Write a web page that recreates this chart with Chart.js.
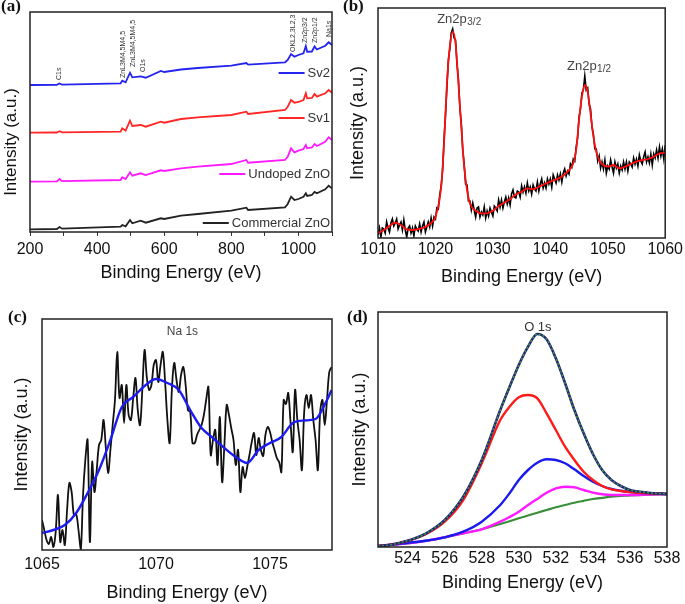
<!DOCTYPE html>
<html lang="en">
<head>
<meta charset="utf-8">
<title>XPS spectra</title>
<script src="https://cdn.jsdelivr.net/npm/chart.js@4.4.1/dist/chart.umd.min.js"></script>
<style>
  body { margin: 0; background: #fff; }
  #fig { position: relative; width: 685px; height: 604px; }
  .panel { position: absolute; }
  .tag { position: absolute; font: bold 17px "Liberation Serif", "Times New Roman", serif; color: #111; }
</style>
</head>
<body>
<div id="fig">
  <div class="panel" style="left:0;top:0;width:345px;height:300px"><canvas id="ca"></canvas></div>
  <div class="panel" style="left:340px;top:0;width:345px;height:300px"><canvas id="cb"></canvas></div>
  <div class="panel" style="left:0;top:300px;width:345px;height:304px"><canvas id="cc"></canvas></div>
  <div class="panel" style="left:340px;top:300px;width:345px;height:304px"><canvas id="cd"></canvas></div>
  <div class="tag" style="left:1px;top:-4px">(a)</div>
  <div class="tag" style="left:343px;top:-4px">(b)</div>
  <div class="tag" style="left:8px;top:307px">(c)</div>
  <div class="tag" style="left:347px;top:307px">(d)</div>
</div>

<script>
// ---- (a) survey spectra ----
const surveyE = [200, 280, 288, 296, 470, 475, 485, 498, 505, 530, 545, 590, 600, 650, 700, 800,
  845, 850, 960, 968, 978, 988, 1000, 1015, 1022, 1026, 1040, 1048, 1055, 1080, 1090, 1100];
const sv2 = [147, 147.2, 148.5, 147.3, 148.7, 151.3, 149.7, 159.3, 154.7, 155.7, 154.3, 161, 160, 162.5, 164, 166.3,
  169, 167.3, 169.7, 172, 178, 175.3, 177, 178.7, 186, 180.3, 180.5, 185.5, 182.5, 186.3, 189.7, 187];
const sv1 = [99.3, 99.5, 100.8, 99.6, 100.3, 103.7, 101.3, 111.3, 106, 107, 105.3, 110.3, 109.3, 113, 114.7, 117,
  120.3, 118, 122, 125.3, 132, 129.3, 130, 132, 138.7, 133.7, 134, 138, 135.3, 138.7, 142, 139.3];
const undoped = [50.3, 50.6, 53, 50.8, 52, 54.7, 53, 59.7, 56.3, 58.7, 57, 61.7, 61, 63.7, 65.3, 68,
  72, 69.3, 72, 75.3, 83.7, 79.7, 81.3, 83, 87, 83.7, 84.5, 88, 86, 90.3, 94.7, 92];
const commercial = [2.7, 3, 5, 3.3, 5.3, 7, 5.7, 12, 8.7, 11.3, 9.3, 13.7, 13, 16.3, 18, 21.3,
  24.3, 22, 24.7, 28, 35.3, 32, 33, 35.3, 38.7, 36, 37, 40, 38.7, 42.7, 46.3, 43.7];
const surveyTicks = [200, 300, 400, 500, 600, 700, 800, 900, 1000, 1100];
const surveyLabels = [200, 400, 600, 800, 1000];

// ---- (b) Zn 2p ----
const znE = [1010, 1011, 1012, 1013, 1014, 1015, 1016, 1017, 1018, 1019, 1020, 1021,
  1021.5, 1022, 1022.5, 1023, 1023.5, 1024, 1024.5, 1025, 1025.5, 1026,
  1027, 1028, 1029, 1030, 1031, 1032, 1033, 1034, 1035, 1036, 1037, 1038, 1039, 1040, 1041, 1042, 1043, 1044,
  1044.5, 1045, 1045.5, 1046, 1046.5, 1047, 1047.5, 1048, 1048.5, 1049,
  1050, 1051, 1052, 1053, 1054, 1055, 1056, 1057, 1058, 1059, 1060];
const znFit = [4.7, 8, 12, 15.3, 13, 8.7, 8, 9, 10.3, 14, 21.3, 51.3,
  94.7, 154.7, 191.3, 206.3, 194.7, 154.7, 111.3, 71.3, 48, 34.7,
  27.3, 24.7, 24.7, 27.3, 32, 35.3, 38.7, 43.7, 46.3, 49.7, 48.7, 51.3, 54, 56.3, 58.7, 61.3, 66.3, 74.7,
  88, 118, 141.3, 153, 146.3, 124.7, 101.3, 86.3, 78, 74,
  71.3, 73, 69.7, 71.3, 74, 76.3, 78, 79, 81.3, 84.7, 85.3];
const znRawStart = 1010, znRawStep = 0.25;
const znRaw = [3, 10, 1, 10, 9, 5, 16, 10, 6, 15,
  19, 12, 15, 19, 9, 13, 16, 8, 18, 8,
  1, 10, 12, 5, 10, 2, 12, 9, 7, 14,
  6, 12, 16, 6, 11, 16, 11, 20, 12, 21,
  19, 30, 29, 43, 52, 68, 99, 123, 151, 178,
  189, 205, 209, 200, 198, 174, 159, 130, 115, 88,
  74, 54, 53, 37, 37, 28, 35, 28, 21, 30,
  31, 21, 26, 23, 31, 20, 27, 22, 30, 26,
  22, 32, 30, 27, 38, 31, 38, 30, 36, 41,
  34, 40, 33, 44, 48, 41, 40, 47, 46, 41,
  52, 46, 51, 45, 55, 47, 51, 44, 53, 49,
  47, 56, 47, 54, 59, 50, 55, 50, 59, 54,
  59, 51, 63, 59, 55, 63, 58, 64, 56, 65,
  69, 62, 67, 64, 74, 71, 79, 77, 91, 100,
  121, 129, 145, 148, 162, 148, 150, 134, 129, 111,
  104, 89, 89, 77, 82, 70, 76, 69, 78, 65,
  72, 69, 78, 71, 65, 76, 70, 74, 65, 72,
  68, 76, 69, 76, 67, 76, 74, 71, 80, 74,
  79, 72, 83, 77, 74, 81, 86, 76, 81, 75,
  84, 73, 84, 80, 88, 80, 91, 82, 89, 79,
  93];
const znTicks = [1010, 1020, 1030, 1040, 1050, 1060];

// ---- (c) Na 1s ----
const naE = [1065, 1065.5, 1066, 1066.5, 1067, 1067.5, 1068, 1068.5, 1069, 1069.5, 1070, 1070.5, 1071, 1071.5,
  1072, 1072.5, 1073, 1073.5, 1074, 1074.5, 1075, 1075.5, 1076, 1076.5, 1077, 1077.5, 1077.7];
const naFit = [17, 20, 25, 37, 57, 80, 110, 143, 153, 164, 171, 167, 160, 140,
  122, 112, 102, 93, 87, 100, 107, 113, 127, 129.5, 131, 150, 160];
const naRawStart = 1065, naRawStep = 0.1;
const naRaw = [30, 20, 10, 6, 13, 3, 18, 55, 8, 20,
  5, 40, 67, 58, 35, 36, 20, 0, 55, 90,
  110, 8, 88, 58, 80, 105, 110, 130, 102, 77,
  100, 125, 150, 198, 152, 165, 127, 165, 135, 130,
  152, 172, 140, 125, 160, 200, 172, 160, 165, 185,
  190, 168, 185, 198, 168, 130, 107, 162, 187, 170,
  158, 175, 183, 165, 140, 138, 107, 107, 115, 120,
  125, 135, 150, 163, 95, 110, 120, 85, 133, 68,
  105, 145, 135, 122, 110, 85, 100, 58, 83, 72,
  83, 95, 108, 117, 95, 112, 100, 94, 115, 123,
  118, 108, 100, 92, 88, 78, 150, 146, 157, 128,
  98, 160, 130, 110, 80, 138, 155, 142, 155, 130,
  110, 80, 138, 150, 125, 150, 178, 183];
const naTicks = [1065, 1067.5, 1070, 1072.5, 1075, 1077.5];
const naLabels = [1065, 1070, 1075];

// ---- (d) O 1s ----
const oE = [522.4, 523, 524, 525, 526, 527, 528, 529, 529.5, 530, 530.5, 531, 531.5, 532, 532.5, 533,
  533.5, 534, 534.5, 535, 535.5, 536, 537, 538];
const oEnvelope = [1, 2, 6.3, 13.7, 27, 50.3, 87, 137, 160, 182, 200.3, 213, 207.7, 188.7, 163.7, 137,
  113.7, 93, 77, 67, 61, 57, 54.3, 53];
const oRed = [1, 2, 6, 13, 25.3, 47, 83.7, 127, 140.3, 149.7, 152, 148.7, 133.7, 117, 100.3, 87,
  75.3, 67, 61, 57.7, 56, 55, 53.7, 53];
const oBlue = [1, 2, 4.3, 6.3, 9.7, 15.3, 25.3, 42, 53.7, 67, 77, 84.3, 87.7, 87, 83.7, 77.7,
  71, 65.3, 61, 58, 56.3, 55, 53.7, 53];
const oPink = [1, 2, 3.7, 6.3, 9.7, 13.7, 17.7, 25.3, 30, 35.3, 42, 48, 54.3, 58.7, 60.3, 59.7,
  57, 54.3, 52.7, 52, 52, 52, 52.5, 53];
const oBase = [1, 2, 3.7, 6.3, 9.7, 13.7, 17.7, 23, 25.8, 28.7, 31.5, 34.3, 37, 39.7, 42, 44.3,
  46.2, 48, 49.2, 50.3, 51, 51.7, 52.3, 52.7];
const oTicks = [524, 526, 528, 530, 532, 534, 536, 538];

const FONT = '"Liberation Sans", Arial, sans-serif';
Chart.defaults.font.family = FONT;
Chart.defaults.color = '#111';

function pts(xs, ys) { return ys.map((y, i) => ({ x: xs[i], y: y })); }
function rawPts(start, step, ys) { return ys.map((y, i) => ({ x: start + i * step, y: y })); }
function line(data, color, width, smooth, tension) {
  return { data: data, borderColor: color, borderWidth: width, showLine: true, pointRadius: 0,
    tension: tension || 0, cubicInterpolationMode: smooth ? 'monotone' : 'default' };
}

// box round the plot area
const framePlugin = {
  id: 'frame',
  afterDraw(chart) {
    const { ctx, chartArea: a } = chart;
    ctx.save();
    ctx.strokeStyle = '#222';
    ctx.lineWidth = 1.5;
    ctx.strokeRect(a.left, a.top, a.right - a.left, a.bottom - a.top);
    ctx.restore();
  }
};

// peak labels, placed in data units
const notesPlugin = {
  id: 'notes',
  afterDatasetsDraw(chart, args, opts) {
    const { ctx, scales: { x, y } } = chart;
    (opts.items || []).forEach(n => {
      ctx.save();
      ctx.translate(x.getPixelForValue(n.x), y.getPixelForValue(n.y));
      if (n.rot) ctx.rotate(n.rot);
      ctx.fillStyle = n.color || '#333';
      ctx.font = n.size + 'px ' + FONT;
      ctx.textAlign = n.align || 'center';
      ctx.textBaseline = 'middle';
      ctx.fillText(n.text, 0, 0);
      if (n.sub) {
        const w = ctx.measureText(n.text).width;
        ctx.font = n.subSize + 'px ' + FONT;
        ctx.textAlign = 'left';
        ctx.fillText(n.sub, w + 0.5, 3);
      }
      ctx.restore();
    });
  }
};

// legend entries sitting next to each curve in (a)
const keysPlugin = {
  id: 'keys',
  afterDatasetsDraw(chart, args, opts) {
    const { ctx, chartArea, scales: { y } } = chart;
    (opts.items || []).forEach(k => {
      const py = y.getPixelForValue(k.y);
      const right = chartArea.right - 2;
      ctx.save();
      ctx.font = '13px ' + FONT;
      ctx.fillStyle = '#333';
      ctx.textAlign = 'right';
      ctx.textBaseline = 'middle';
      ctx.fillText(k.label, right, py);
      const w = ctx.measureText(k.label).width;
      ctx.strokeStyle = chart.data.datasets[k.set].borderColor;
      ctx.lineWidth = 2;
      ctx.beginPath();
      ctx.moveTo(right - w - 3, py);
      ctx.lineTo(right - w - 29, py);
      ctx.stroke();
      ctx.restore();
    });
  }
};

function panel(id, o) {
  return new Chart(document.getElementById(id), {
    type: 'scatter',
    data: { datasets: o.sets },
    options: {
      responsive: true,
      maintainAspectRatio: false,
      animation: false,
      events: [],
      layout: { padding: o.pad },
      plugins: {
        legend: { display: false },
        tooltip: { enabled: false },
        notes: { items: o.notes || [] },
        keys: { items: o.keys || [] }
      },
      scales: {
        x: {
          type: 'linear', min: o.xmin, max: o.xmax,
          afterBuildTicks: s => { s.ticks = o.xticks.map(v => ({ value: v })); },
          afterFit: s => { s.height = o.xh; },
          ticks: {
            padding: o.tickPad, color: '#111', font: { size: 16 }, maxRotation: 0, autoSkip: false,
            callback: v => (o.xlabels.includes(v) ? String(v) : '')
          },
          grid: { drawOnChartArea: false, drawTicks: o.tickLen > 0, tickLength: o.tickLen, color: '#333' },
          border: { display: false },
          title: { display: true, text: 'Binding Energy (eV)', color: '#111', font: { size: 18 },
            padding: { top: 0, bottom: o.xtPad } }
        },
        y: {
          min: 0, max: o.ymax,
          afterFit: s => { s.width = o.yw; },
          ticks: { display: false },
          grid: { display: false },
          border: { display: false },
          title: { display: o.ytSize > 0, text: 'Intensity (a.u.)', color: '#111', font: { size: o.ytSize || 18 },
            padding: { top: o.ytPad || 0, bottom: 0 } }
        }
      }
    },
    plugins: [framePlugin, notesPlugin, keysPlugin]
  });
}

const up = -Math.PI / 2;

panel('ca', {
  sets: [
    line(pts(surveyE, sv2), '#2424ee', 1.8),
    line(pts(surveyE, sv1), '#ff2626', 1.8),
    line(pts(surveyE, undoped), '#ff1aff', 1.8),
    line(pts(surveyE, commercial), '#222222', 1.8)
  ],
  pad: { left: 0, top: 12, right: 13, bottom: 0 },
  xmin: 200, xmax: 1100, xticks: surveyTicks, xlabels: surveyLabels,
  xh: 68, tickLen: 4, tickPad: 4, xtPad: 16,
  ymax: 220, yw: 30, ytSize: 0,
  notes: [
    // axis title of this panel sits low in the original, so it is placed by hand
    { text: 'Intensity (a.u.)', x: 143, y: 90, rot: up, size: 17, color: '#111' },
    { text: 'C1s', x: 287, y: 152, rot: up, align: 'left', size: 7 },
    { text: 'ZnL3M4,5M4,5', x: 476, y: 154, rot: up, align: 'left', size: 7 },
    { text: 'ZnL3M4,5M4,5', x: 506, y: 165, rot: up, align: 'left', size: 7 },
    { text: 'O1s', x: 536, y: 160, rot: up, align: 'left', size: 7 },
    { text: 'OKL2,3L2,3', x: 983, y: 180, rot: up, align: 'left', size: 7 },
    { text: 'Zn2p3/2', x: 1019, y: 189, rot: up, align: 'left', size: 7 },
    { text: 'Zn2p1/2', x: 1049, y: 189, rot: up, align: 'left', size: 7 },
    { text: 'Na1s', x: 1091, y: 195, rot: up, align: 'left', size: 7 }
  ],
  keys: [
    { label: 'Sv2', set: 0, y: 159 },
    { label: 'Sv1', set: 1, y: 114 },
    { label: 'Undoped ZnO', set: 2, y: 58 },
    { label: 'Commercial ZnO', set: 3, y: 9 }
  ]
});

panel('cb', {
  sets: [
    line(pts(znE, znFit), '#ff1010', 1.8, true),
    line(rawPts(znRawStart, znRawStep, znRaw), '#000000', 1.6)
  ],
  pad: { left: 0, top: 8, right: 18, bottom: 0 },
  xmin: 1010, xmax: 1060, xticks: znTicks, xlabels: znTicks,
  xh: 62, tickLen: 0, tickPad: 2, xtPad: 12,
  ymax: 230, yw: 38, ytSize: 18, ytPad: 7,
  notes: [
    { text: 'Zn2p', sub: '3/2', x: 1020.3, y: 219, align: 'left', size: 13, subSize: 10, color: '#444' },
    { text: 'Zn2p', sub: '1/2', x: 1042.9, y: 172, align: 'left', size: 13, subSize: 10, color: '#444' }
  ]
});

panel('cc', {
  sets: [
    line(pts(naE, naFit), '#1c1cf0', 2.4, true),
    line(rawPts(naRawStart, naRawStep, naRaw), '#111111', 1.8, false, 0.35)
  ],
  pad: { left: 0, top: 19, right: 13, bottom: 0 },
  xmin: 1065, xmax: 1077.72, xticks: naTicks, xlabels: naLabels,
  xh: 54, tickLen: 0, tickPad: 5, xtPad: 0,
  ymax: 231, yw: 42, ytSize: 18, ytPad: 11,
  notes: [
    { text: 'Na 1s', x: 1071.16, y: 218, size: 12, color: '#444' }
  ]
});

panel('cd', {
  sets: [
    Object.assign(line(pts(oE, oEnvelope), '#39a039', 1.4, true), { borderDash: [2, 2] }),
    line(pts(oE, oEnvelope), '#23237a', 2.6, true),
    line(pts(oE, oRed), '#ff1a1a', 2.4, true),
    line(pts(oE, oBlue), '#1a1aee', 2.4, true),
    line(pts(oE, oPink), '#ff1aff', 2.4, true),
    line(pts(oE, oBase), '#3a8f3a', 2.2, true)
  ],
  pad: { left: 0, top: 12, right: 18, bottom: 0 },
  xmin: 522.4, xmax: 538, xticks: oTicks, xlabels: oTicks,
  xh: 57, tickLen: 0, tickPad: 2, xtPad: 10,
  ymax: 235, yw: 38, ytSize: 18, ytPad: 9,
  notes: [
    { text: 'O 1s', x: 531.03, y: 220, size: 13, color: '#333' }
  ]
});
</script>
</body>
</html>
